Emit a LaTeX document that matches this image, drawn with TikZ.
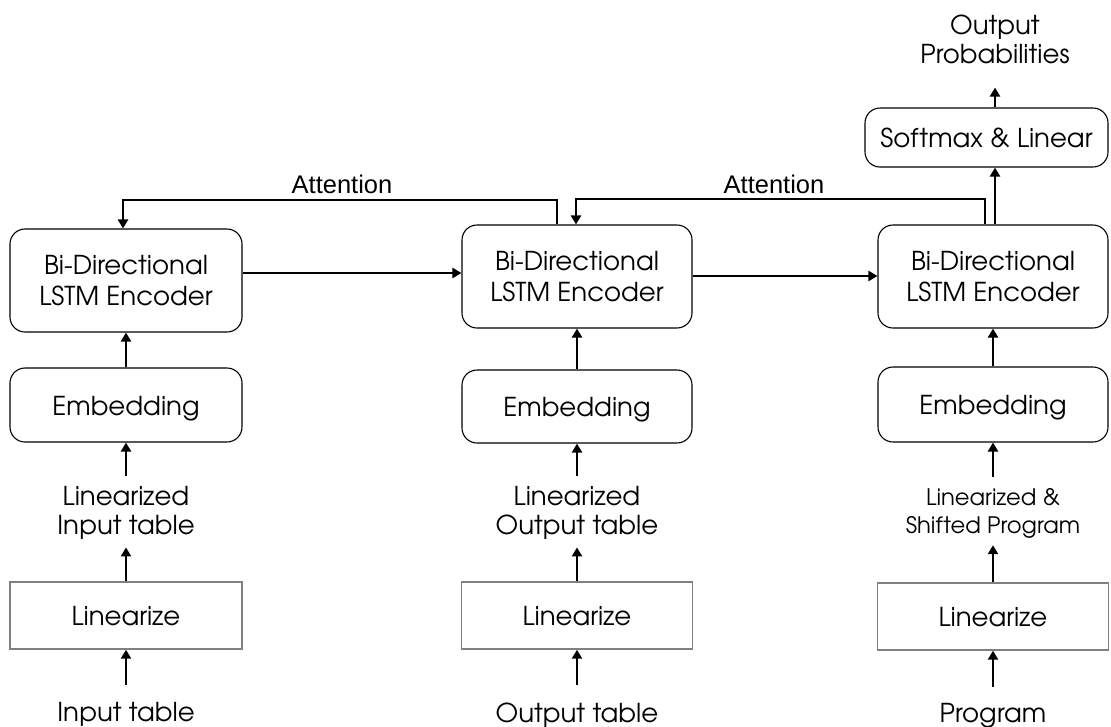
\documentclass[tikz,border=0pt]{standalone}
\usepackage{fontspec}
\setmainfont{texgyreadventor-regular.otf}
\newfontfamily\labelfont{Liberation Sans}
\usetikzlibrary{arrows.meta}
\begin{document}
\begin{tikzpicture}[x=1pt,y=-1pt,
  boxfont/.style={font=\fontsize{26}{31}\selectfont},
  blk/.style={boxfont,draw=black,line width=1.1pt,rounded corners=15pt,inner sep=0pt},
  blktwo/.style={blk,align=center},
  blkone/.style={blk,text height=20pt,text depth=0pt},
  linbox/.style={boxfont,draw=black!50,line width=1.4pt,inner sep=0pt,
    text height=20pt,text depth=0pt},
  txt/.style={align=center,font=\fontsize{26}{29}\selectfont,inner sep=0pt},
  txtone/.style={font=\fontsize{26}{29}\selectfont,inner sep=0pt,
    text height=20pt,text depth=0pt},
  smalltxt/.style={align=center,font=\fontsize{22.7}{28}\selectfont,inner sep=0pt},
  arr/.style={line width=2.6pt,-{Triangle[width=10pt,length=9pt]}},
  attlbl/.style={font=\labelfont\fontsize{25.5}{28}\selectfont,inner sep=0pt}]
\useasboundingbox (0,0) rectangle (1111,726);

% encoders
\node[blktwo,minimum width=232pt,minimum height=103pt] (enc1) at (126,280.5) {Bi-Directional\\LSTM Encoder};
\node[blktwo,minimum width=230pt,minimum height=103pt] (enc2) at (577,276.5) {Bi-Directional\\LSTM Encoder};
\node[blktwo,minimum width=230pt,minimum height=103pt] (enc3) at (993,276.5) {Bi-Directional\\LSTM Encoder};

% embeddings
\node[blkone,minimum width=232pt,minimum height=74pt] (emb1) at (126,405) {Embedding};
\node[blkone,minimum width=230pt,minimum height=73pt] (emb2) at (577,406.5) {Embedding};
\node[blkone,minimum width=230pt,minimum height=75pt] (emb3) at (993,404.5) {Embedding};

% linearize steps
\node[linbox,minimum width=232pt,minimum height=67pt] (lin1) at (126,615.5) {Linearize};
\node[linbox,minimum width=231pt,minimum height=67pt] (lin2) at (577,615.5) {Linearize};
\node[linbox,minimum width=231pt,minimum height=67pt] (lin3) at (993,616.5) {Linearize};

% output head
\node[blkone,minimum width=243pt,minimum height=59pt] (soft) at (986.5,137.5) {Softmax \& Linear};
\node[txt] (prob) at (995,38.9) {Output\\Probabilities};

% intermediate sequences
\node[txt] (lit1) at (126,512.6) {Linearized\\Input table};
\node[txt] (lot2) at (577,512.6) {Linearized\\Output table};
\node[smalltxt] (lsp3) at (993,513) {Linearized \&\\Shifted Program};

% raw inputs
\node[txtone] (in1) at (126,711) {Input table};
\node[txtone] (in2) at (577,712) {Output table};
\node[txtone] (in3) at (993,712) {Program};

% vertical flow
\draw[arr,shorten <=16pt] (in1) -- (lin1);
\draw[arr,shorten <=17pt] (in2) -- (lin2);
\draw[arr,shorten <=15pt] (in3) -- (lin3);
\draw[arr,shorten >=8pt] (lin1) -- (lit1);
\draw[arr,shorten >=8pt] (lin2) -- (lot2);
\draw[arr,shorten >=7pt] (lin3) -- (lsp3);
\draw[arr,shorten <=10pt] (lit1) -- (emb1);
\draw[arr,shorten <=10pt] (lot2) -- (emb2);
\draw[arr,shorten <=11pt] (lsp3) -- (emb3);
\foreach \a/\b in {emb1/enc1,emb2/enc2,emb3/enc3}
  \draw[arr] (\a) -- (\b);

% encoder chain
\draw[arr] (enc1.east |- 0,273) -- (enc2.west |- 0,273);
\draw[arr] (enc2.east |- 0,276) -- (enc3.west |- 0,276);

% decoder to output
\draw[arr] (enc3.north -| 995,0) -- (soft.south -| 995,0);
\draw[arr,shorten >=24pt] (soft.north -| 995,0) -- (prob.south -| 995,0);

% attention links
\coordinate (a1) at (557,200);
\coordinate (a2) at (123,200);
\draw[arr] (enc2.north -| a1) -- (a1) -- (a2) -- (enc1.north -| a2);
\node[attlbl] (att1) at (342,184) {Attention};
\coordinate (b1) at (985,199);
\coordinate (b2) at (576,199);
\draw[arr] (enc3.north -| b1) -- (b1) -- (b2) -- (enc2.north -| b2);
\node[attlbl] (att2) at (774,184) {Attention};
\end{tikzpicture}
\end{document}
